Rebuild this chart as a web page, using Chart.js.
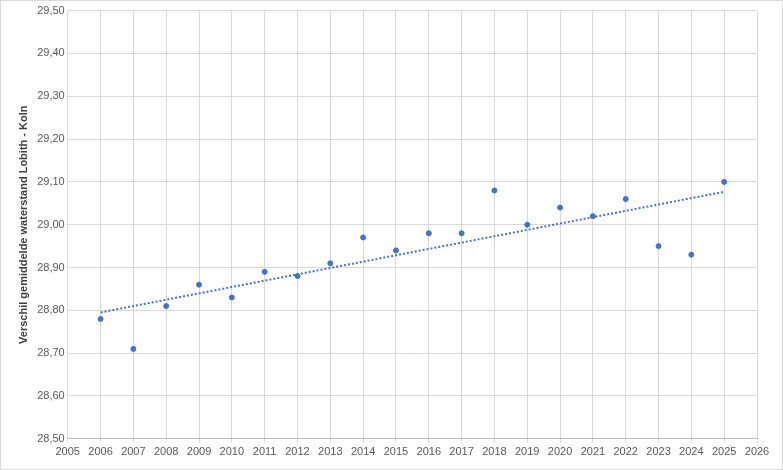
<!DOCTYPE html>
<html>
<head>
<meta charset="utf-8">
<script src="https://cdn.jsdelivr.net/npm/chart.js@4"></script>
<style>
  body { margin: 0; background: #fff; }
  #wrap { width: 781px; height: 468px; border: 1px solid #d9d9d9; }
</style>
</head>
<body>
<div id="wrap"><canvas id="c" width="781" height="468"></canvas></div>
<script>
const years = [2006, 2007, 2008, 2009, 2010, 2011, 2012, 2013, 2014, 2015,
               2016, 2017, 2018, 2019, 2020, 2021, 2022, 2023, 2024, 2025];
const levels = [28.78, 28.71, 28.81, 28.86, 28.83, 28.89, 28.88, 28.91, 28.97, 28.94,
                28.98, 28.98, 29.08, 29.00, 29.04, 29.02, 29.06, 28.95, 28.93, 29.10];
const yTitle = 'Verschil gemiddelde waterstand Lobith - Koln';

// least squares trendline
const n = years.length;
const mx = years.reduce((a, b) => a + b) / n;
const my = levels.reduce((a, b) => a + b) / n;
let sxy = 0, sxx = 0;
years.forEach((x, i) => { sxy += (x - mx) * (levels[i] - my); sxx += (x - mx) ** 2; });
const slope = sxy / sxx;
const trend = [years[0], years[n - 1]].map(x => ({ x, y: my + slope * (x - mx) }));

new Chart(document.getElementById('c'), {
  type: 'scatter',
  data: {
    datasets: [{
      data: years.map((x, i) => ({ x, y: levels[i] })),
      backgroundColor: '#4472c4',
      borderColor: '#4472c4',
      pointRadius: 2.5
    }, {
      type: 'line',
      data: trend,
      borderColor: '#4472c4',
      borderWidth: 2,
      borderDash: [2, 2],
      pointRadius: 0,
      fill: false
    }]
  },
  options: {
    responsive: false,
    animation: false,
    layout: { padding: { left: 12, right: 25, top: 8, bottom: 7 } },
    plugins: { legend: { display: false }, tooltip: { enabled: false } },
    scales: {
      x: {
        type: 'linear', min: 2005, max: 2026,
        ticks: { stepSize: 1, color: '#595959', font: { family: 'Liberation Sans', size: 11 }, callback: v => String(v) },
        grid: { color: '#d9d9d9', drawTicks: true, tickLength: 4 },
        border: { color: '#bfbfbf' }
      },
      y: {
        min: 28.5, max: 29.5,
        ticks: { stepSize: 0.1, color: '#595959', font: { family: 'Liberation Sans', size: 11 },
                 callback: v => v.toFixed(2).replace('.', ',') },
        grid: { color: '#d9d9d9', drawTicks: false },
        border: { display: false },
        title: { display: true, text: yTitle, color: '#404040',
                 font: { family: 'Liberation Sans', size: 11, weight: 'bold' } }
      }
    }
  }
});
</script>
</body>
</html>
